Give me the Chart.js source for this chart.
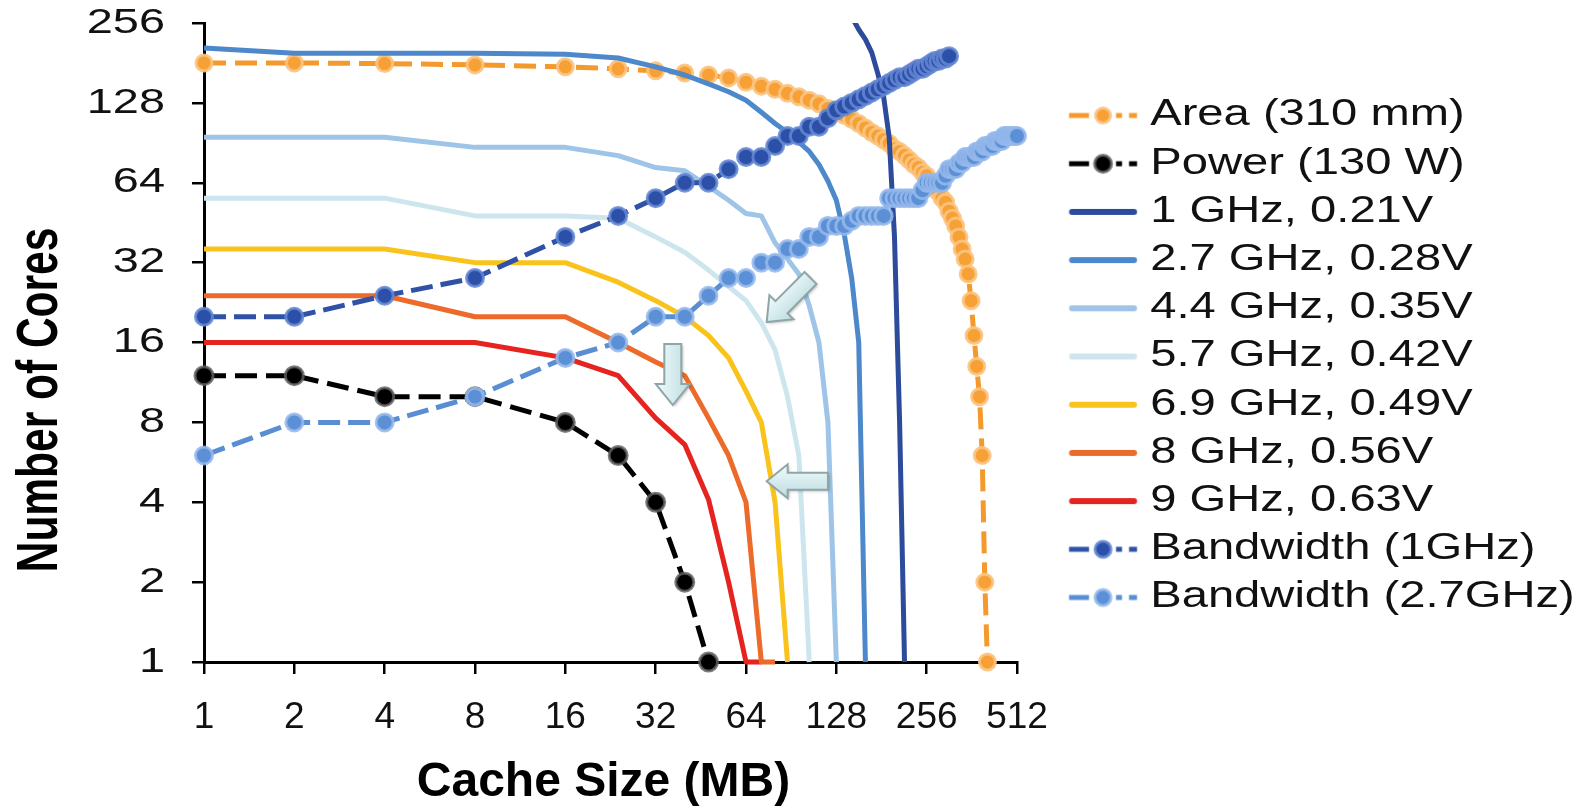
<!DOCTYPE html>
<html>
<head>
<meta charset="utf-8">
<title>Number of Cores vs Cache Size</title>
<script src="https://cdn.jsdelivr.net/npm/chart.js@4.4.1/dist/chart.umd.min.js"></script>
<style>
  html, body { margin: 0; padding: 0; background: #ffffff; }
  #wrap { width: 1585px; height: 812px; }
  canvas { display: block; }
</style>
</head>
<body>
<div id="wrap"><canvas id="chart" width="1585" height="812"></canvas></div>
<script>
// Cache sizes (MB). Every series below lists its core counts from the first
// cache size onward and stops where the series ends.
const CACHE_MB = [1, 2, 4, 8, 16, 24, 32, 40, 48, 56, 64, 72, 80, 88, 96, 104, 112, 120, 128,
  136, 144, 152, 160, 168, 176, 184, 192, 200, 208, 216, 224, 232, 240, 248, 256,
  264, 272, 280, 288, 296, 304, 312, 320, 328, 336, 344, 352, 360, 368, 376, 384,
  392, 400, 408, 416, 424, 432, 440, 448, 456, 464, 472, 480, 488, 496, 504, 512];

const X_TICKS = [1, 2, 4, 8, 16, 32, 64, 128, 256, 512];
const Y_TICKS = [1, 2, 4, 8, 16, 32, 64, 128, 256];

// Area limit (310 mm)
const areaCores = [181, 181, 180, 178, 175, 172, 169, 166, 163, 159, 153, 148, 144, 139, 135,
  131, 127, 122, 118, 115, 111, 107, 103, 99, 96, 93, 90, 86, 84, 81, 78, 75, 73, 70, 68,
  64, 62, 59, 56, 54, 50, 47, 44, 40, 36, 33, 29, 23, 17, 13, 10, 6, 2, 1];
// Power limit (130 W)
const powerCores = [12, 12, 10, 10, 8, 6, 4, 2, 1];
// Frequency / voltage operating points
const cache1GHz = [144, 152, 160, 168, 176, 184, 192, 200, 208, 216];
const cores1GHz = [270, 242, 222, 198, 165, 135, 95, 40, 8, 1];
const cores2_7GHz = [206, 197, 197, 197, 195, 189, 175, 163, 151, 141, 131, 118, 107, 99, 91,
  84, 75, 65, 55, 41, 28, 16, 1];
const cores4_4GHz = [95, 95, 95, 87, 87, 81, 73, 71, 62, 55, 49, 48, 38, 33, 29, 22, 16, 8, 1];
const cores5_7GHz = [56, 56, 56, 48, 48, 47, 40, 35, 30, 26, 23, 19, 15, 10, 6, 1];
const cores6_9GHz = [36, 36, 36, 32, 32, 27, 23, 20, 17, 14, 10.5, 8, 4, 1];
const cores8GHz = [24, 24, 24, 20, 20, 16, 13.5, 12, 8.3, 6, 4, 1, 1];
const cores9GHz = [16, 16, 16, 16, 14, 12, 8.3, 6.6, 4.1, 2, 1, 1];
// Memory bandwidth limits
const bw1GHzCores = [20, 20, 24, 28, 40, 48, 56, 64, 64, 72, 80, 80, 88, 96, 96, 104, 104, 112,
  120, 124, 128, 132, 136, 140, 144, 148, 152, 156, 160, 160, 164, 168, 172, 172, 176, 180,
  184, 184, 188, 188, 192];
const bw2_7GHzCores = [6, 8, 8, 10, 14, 16, 20, 20, 24, 28, 28, 32, 32, 36, 36, 40, 40, 44, 44,
  44, 46, 48, 48, 48, 48, 48, 56, 56, 56, 56, 56, 56, 56, 60, 64, 64, 64, 64, 64, 68, 72, 72,
  72, 76, 76, 80, 80, 80, 80, 84, 84, 84, 88, 88, 88, 88, 92, 92, 92, 92, 96, 96, 96, 96, 96,
  96, 96];

// Callout arrows, anchored in data space (cache MB, cores)
const CALLOUTS = [
  { from: [105, 28], to: [75, 19.1] },
  { from: [36.5, 15.8], to: [36.5, 9.3] },
  { from: [120, 4.8], to: [75, 4.8] }
];

const onCache = (vals) => vals.map((v, i) => ({ x: CACHE_MB[i], y: v }));
const paired = (xs, ys) => xs.map((x, i) => ({ x, y: ys[i] }));

// ---- layout constants -------------------------------------------------
const PLOT_RIGHT = 1017;
const LEGEND_W = 1585 - PLOT_RIGHT;
const LEG_PAD = 12.2;
const LEG_BOX = 103;
const SAMPLE_W = 140;
const SAMPLE_START = 1069 - (PLOT_RIGHT + LEG_PAD + LEG_BOX / 2 - SAMPLE_W / 2);
const SAMPLE_LEN = 68;

function dotted(label, vals, line, dot, halo, radius, dash, order) {
  return {
    label, data: vals, order,
    borderColor: line, backgroundColor: dot, borderWidth: 5, borderDash: dash,
    pointRadius: radius, pointBackgroundColor: dot, pointBorderColor: halo, pointBorderWidth: 3,
    pointHoverRadius: radius, clip: 14, kind: 'dotted'
  };
}
function solid(label, vals, color, order, clip) {
  return {
    label, data: vals, order,
    borderColor: color, backgroundColor: color, borderWidth: 5,
    pointRadius: 0, pointHoverRadius: 0, clip: clip === undefined ? 8 : clip, kind: 'solid'
  };
}

const datasets = [
  dotted('Area (310 mm)', onCache(areaCores), '#f49a2c', '#f7a035', 'rgba(251,196,130,0.9)', 8, [22, 9], 12),
  dotted('Power (130 W)', onCache(powerCores), '#000000', '#000000', 'rgba(95,95,95,0.8)', 9, [22, 9], 11),
  solid('1 GHz, 0.21V', paired(cache1GHz, cores1GHz), '#2d4b9b', 4, { left: 8, right: 8, top: 0, bottom: 8 }),
  solid('2.7 GHz, 0.28V', onCache(cores2_7GHz), '#4c88ca', 5),
  solid('4.4 GHz, 0.35V', onCache(cores4_4GHz), '#9ec4e7', 6),
  solid('5.7 GHz, 0.42V', onCache(cores5_7GHz), '#cde6ee', 7),
  solid('6.9 GHz, 0.49V', onCache(cores6_9GHz), '#f9c31c', 8),
  solid('8 GHz, 0.56V', onCache(cores8GHz), '#ec6a2a', 9),
  solid('9 GHz, 0.63V', onCache(cores9GHz), '#e5231f', 10),
  dotted('Bandwidth (1GHz)', onCache(bw1GHzCores), '#2f51a6', '#2c4fa8', 'rgba(100,135,212,0.85)', 8.5, [22, 8], 0),
  dotted('Bandwidth (2.7GHz)', onCache(bw2_7GHzCores), '#5a8ed3', '#5c90d6', 'rgba(150,186,236,0.85)', 8.5, [22, 8], 1)
];

// Legend key: a short line sample, with a marker for the dotted series
function legendSample(ds) {
  const c = document.createElement('canvas');
  c.width = SAMPLE_W; c.height = 30;
  const g = c.getContext('2d');
  const y = 15, x0 = SAMPLE_START, xm = x0 + SAMPLE_LEN / 2;
  g.strokeStyle = ds.borderColor;
  if (ds.kind === 'dotted') {
    g.lineWidth = 5;
    g.beginPath(); g.moveTo(x0, y); g.lineTo(x0 + 20, y); g.stroke();
    g.beginPath();
    g.moveTo(x0 + 47, y); g.lineTo(x0 + 53, y);
    g.moveTo(x0 + 60, y); g.lineTo(x0 + SAMPLE_LEN, y);
    g.stroke();
    g.beginPath(); g.arc(xm, y, ds.pointRadius - 0.5, 0, Math.PI * 2);
    g.fillStyle = ds.pointBackgroundColor; g.fill();
    g.lineWidth = ds.pointBorderWidth; g.strokeStyle = ds.pointBorderColor; g.stroke();
  } else {
    g.lineWidth = 6; g.lineCap = 'round';
    g.beginPath(); g.moveTo(x0 + 3, y); g.lineTo(x0 + SAMPLE_LEN - 3, y); g.stroke();
  }
  return c;
}

function blockArrow(ctx, ax, ay, bx, by) {
  const dx = bx - ax, dy = by - ay, len = Math.hypot(dx, dy);
  const ux = dx / len, uy = dy / len, nx = -uy, ny = ux;
  const sw = 8.5, hw = 17, hl = 21, neck = len - hl;
  const P = (t, s) => [ax + ux * t + nx * s, ay + uy * t + ny * s];
  const pts = [P(0, sw), P(neck, sw), P(neck, hw), [bx, by], P(neck, -hw), P(neck, -sw), P(0, -sw)];
  ctx.save();
  const a = P(neck / 2, hw), b = P(neck / 2, -hw);
  const grad = ctx.createLinearGradient(a[0], a[1], b[0], b[1]);
  grad.addColorStop(0, '#f1fbfc');
  grad.addColorStop(1, '#bcdce0');
  ctx.beginPath();
  pts.forEach((p, i) => (i ? ctx.lineTo(p[0], p[1]) : ctx.moveTo(p[0], p[1])));
  ctx.closePath();
  ctx.shadowColor = 'rgba(0,0,0,0.28)';
  ctx.shadowBlur = 3; ctx.shadowOffsetX = 1.5; ctx.shadowOffsetY = 1.5;
  ctx.fillStyle = grad; ctx.fill();
  ctx.shadowColor = 'transparent';
  ctx.lineWidth = 2; ctx.lineJoin = 'miter'; ctx.strokeStyle = '#8ea6a7'; ctx.stroke();
  ctx.restore();
}

const callouts = {
  id: 'callouts',
  afterDatasetsDraw(chart) {
    const { ctx, scales: { x, y } } = chart;
    CALLOUTS.forEach(({ from, to }) => {
      blockArrow(ctx, x.getPixelForValue(from[0]), y.getPixelForValue(from[1]),
        x.getPixelForValue(to[0]), y.getPixelForValue(to[1]));
    });
  }
};

// Runs fn with every fillText scaled about its own anchor point
function stretchedText(ctx, sx, sy, fn) {
  const base = CanvasRenderingContext2D.prototype.fillText;
  ctx.fillText = function (text, x, y) {
    this.save();
    this.translate(x, y);
    this.scale(sx, sy);
    base.call(this, text, 0, 0);
    this.restore();
  };
  try { fn(); } finally { delete ctx.fillText; }
}

// Wide lettering for the legend and value axis, fixed legend column width
const typeTweaks = {
  id: 'typeTweaks',
  beforeLayout(chart) {
    const lg = chart.legend;
    if (lg && !lg.__tuned) {
      const fit = lg.fit.bind(lg), draw = lg.draw.bind(lg);
      lg.fit = function () { fit(); this.width = LEGEND_W; };
      lg.draw = function () { stretchedText(this.ctx, 1.31, 1, draw); };
      lg.__tuned = true;
    }
    const ys = chart.scales.y, xs = chart.scales.x;
    if (ys && !ys.__tuned) {
      const dl = ys.drawLabels.bind(ys), dt = ys.drawTitle.bind(ys);
      ys.drawLabels = function (a) { stretchedText(this.ctx, 1.34, 1, () => dl(a)); };
      ys.drawTitle = function () {
        const c = this.ctx;
        c.save(); c.translate(0, 57.5);
        stretchedText(c, 0.745, 1, dt);
        c.restore();
      };
      ys.__tuned = true;
    }
    if (xs && !xs.__tuned) {
      const dt = xs.drawTitle.bind(xs);
      xs.drawTitle = function () { const c = this.ctx; c.save(); c.translate(-7, 0); dt(); c.restore(); };
      xs.__tuned = true;
    }
  }
};

const SANS = '"Liberation Sans", Arial, sans-serif';

new Chart(document.getElementById('chart'), {
  type: 'line',
  data: { datasets },
  plugins: [typeTweaks, callouts],
  options: {
    responsive: false,
    animation: false,
    events: [],
    layout: { padding: { top: 23, left: 0, right: 0, bottom: 0 } },
    elements: { line: { tension: 0, borderJoinStyle: 'round' } },
    scales: {
      x: {
        type: 'logarithmic', min: 1, max: 512,
        afterBuildTicks: (s) => { s.ticks = X_TICKS.map((v) => ({ value: v })); },
        afterFit: (s) => { s.height = 150; },
        ticks: { autoSkip: false, maxRotation: 0, padding: 22, color: '#111',
          font: { family: SANS, size: 37 }, callback: (v) => String(v) },
        grid: { display: true, drawOnChartArea: false, drawTicks: true, tickLength: 12, color: '#000', lineWidth: 2.5 },
        border: { display: true, color: '#000', width: 3 },
        title: { display: true, text: 'Cache Size (MB)', color: '#000',
          font: { family: SANS, size: 48, weight: 'bold' }, padding: { top: 0, bottom: 0 } }
      },
      y: {
        type: 'logarithmic', min: 1, max: 256,
        afterBuildTicks: (s) => { s.ticks = Y_TICKS.map((v) => ({ value: v })); },
        afterFit: (s) => { s.width = 204; s.paddingTop = 0; s.paddingBottom = 0; },
        ticks: { autoSkip: false, padding: 27, color: '#111',
          font: { family: SANS, size: 35 }, callback: (v) => String(v) },
        grid: { display: true, drawOnChartArea: false, drawTicks: true, tickLength: 12, color: '#000', lineWidth: 2.5 },
        border: { display: true, color: '#000', width: 3 },
        title: { display: true, text: 'Number of Cores', color: '#000',
          font: { family: SANS, size: 57, weight: 'bold' }, padding: { top: 7, bottom: 0 } }
      }
    },
    plugins: {
      tooltip: { enabled: false },
      legend: {
        position: 'right',
        align: 'start',
        title: { display: true, text: ' ', font: { size: 10 }, padding: { top: 50.3, bottom: 0 } },
        labels: {
          usePointStyle: true,
          pointStyleWidth: LEG_BOX,
          padding: LEG_PAD,
          color: '#111',
          font: { family: SANS, size: 36 },
          generateLabels: (chart) => chart.data.datasets.map((ds, i) => ({
            text: ds.label,
            pointStyle: legendSample(ds),
            fillStyle: ds.borderColor,
            strokeStyle: ds.borderColor,
            lineWidth: 0,
            hidden: false,
            datasetIndex: i,
            fontColor: '#111'
          }))
        }
      }
    }
  }
});
</script>
</body>
</html>
